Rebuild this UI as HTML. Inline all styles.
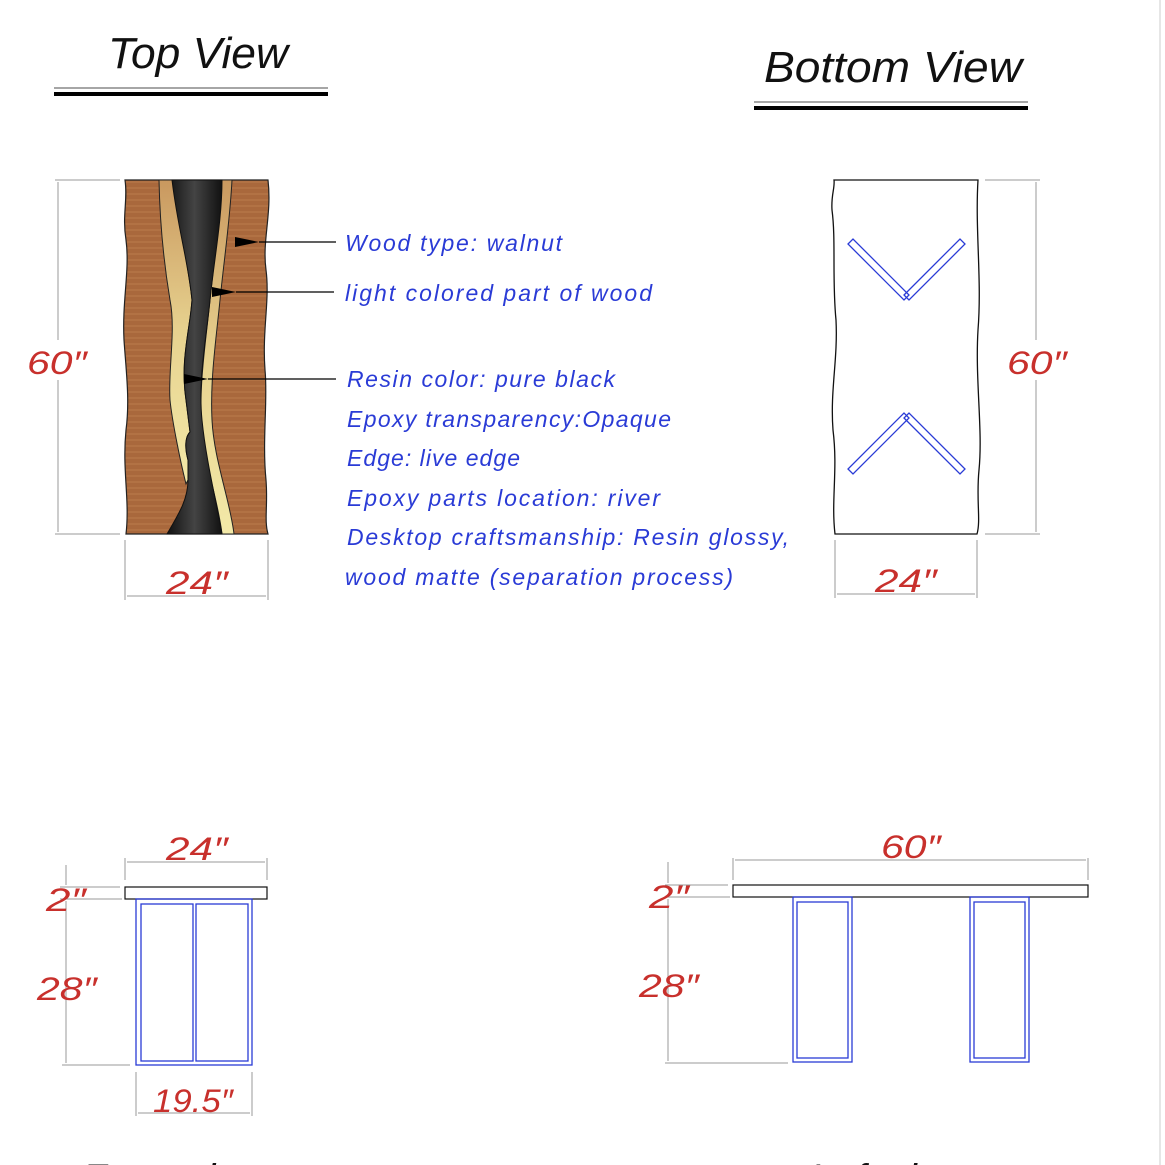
<!DOCTYPE html>
<html><head><meta charset="utf-8"><style>
html,body{margin:0;padding:0;background:#fff;}
svg{display:block;}
.t{font-family:"Liberation Sans",sans-serif;font-style:italic;font-weight:normal;}
.lbl{fill:#2a3bd6;font-size:23px;}
.dim{fill:#c8302c;font-size:32px;}
.ttl{fill:#111;font-size:44px;}
</style></head><body>
<svg width="1165" height="1165" viewBox="0 0 1165 1165" xmlns="http://www.w3.org/2000/svg">
<defs>
<pattern id="grain" width="40" height="6" patternUnits="userSpaceOnUse">
<rect width="40" height="6" fill="#a9683c"/>
<line x1="0" y1="2" x2="40" y2="2" stroke="#bb7b4c" stroke-width="1"/>
</pattern>
<linearGradient id="resin" x1="0" x2="1"><stop offset="0" stop-color="#111"/><stop offset="0.5" stop-color="#444"/><stop offset="1" stop-color="#111"/></linearGradient>
<linearGradient id="light" x1="0" y1="0" x2="0" y2="1"><stop offset="0" stop-color="#c9985f"/><stop offset="0.5" stop-color="#e7d28f"/><stop offset="1" stop-color="#f3e9a8"/></linearGradient>
<marker id="ar" markerUnits="userSpaceOnUse" markerWidth="24" markerHeight="10" refX="0" refY="5" orient="auto"><path d="M0,5 L24,0 L24,10 Z" fill="#000"/></marker>
</defs>
<line x1="1160" y1="0" x2="1160" y2="1165" stroke="#ccc" stroke-width="1"/>

<text x="108" y="68" class="t ttl" textLength="180" lengthAdjust="spacingAndGlyphs">Top View</text>
<line x1="54" y1="88" x2="328" y2="88" stroke="#888" stroke-width="1.5"/>
<line x1="54" y1="94" x2="328" y2="94" stroke="#000" stroke-width="4"/>
<text x="764" y="82" class="t ttl" textLength="258" lengthAdjust="spacingAndGlyphs">Bottom View</text>
<line x1="754" y1="102" x2="1028" y2="102" stroke="#888" stroke-width="1.5"/>
<line x1="754" y1="108" x2="1028" y2="108" stroke="#000" stroke-width="4"/>

<path d="M125,180 L268,180 C272,215 262,240 266,270 C270,300 262,330 265,370 C268,400 262,440 266,480 C268,505 264,520 268,534 L126,534 C130,500 122,470 126,430 C130,400 126,370 124,340 C122,300 130,270 126,240 C122,215 128,200 125,180 Z" fill="url(#grain)" stroke="#222" stroke-width="1.2"/>
<path d="M159,180 L178,180 C178,230 188,260 192,300 C190,330 180,360 186,400 L190,432 C186,436 184,445 188,460 L188,480 L186,484 C180,460 172,420 170,400 C168,370 176,330 170,300 C165,270 160,230 159,180 Z" fill="url(#light)" stroke="#222" stroke-width="1"/>
<path d="M219,180 L232,180 C230,220 224,260 220,300 C216,340 210,380 212,420 C214,460 230,500 234,534 L222,534 C218,500 206,470 202,430 C198,390 206,340 210,300 C214,260 220,220 219,180 Z" fill="url(#light)" stroke="#222" stroke-width="1"/>
<path d="M172,180 L222,180 C222,220 214,260 210,300 C206,340 198,380 202,420 C206,460 216,500 222,534 L167,534 C178,515 188,500 188,480 L188,460 C184,445 186,436 190,432 L186,400 C180,360 190,330 192,300 C188,260 178,230 172,180 Z" fill="url(#resin)" stroke="#111" stroke-width="1"/>

<line x1="336" y1="242" x2="259" y2="242" stroke="#000" stroke-width="1.2" marker-end="url(#ar)"/>
<line x1="334" y1="292" x2="236" y2="292" stroke="#000" stroke-width="1.2" marker-end="url(#ar)"/>
<line x1="336" y1="379" x2="208" y2="379" stroke="#000" stroke-width="1.2" marker-end="url(#ar)"/>

<text x="345" y="251" class="t lbl" textLength="217" lengthAdjust="spacing">Wood type: walnut</text>
<text x="345" y="301" class="t lbl" textLength="307" lengthAdjust="spacing">light colored part of wood</text>
<text x="347" y="387" class="t lbl" textLength="268" lengthAdjust="spacing">Resin color: pure black</text>
<text x="347" y="427" class="t lbl" textLength="324" lengthAdjust="spacing">Epoxy transparency:Opaque</text>
<text x="347" y="466" class="t lbl" textLength="173" lengthAdjust="spacing">Edge: live edge</text>
<text x="347" y="506" class="t lbl" textLength="313" lengthAdjust="spacing">Epoxy parts location: river</text>
<text x="347" y="545" class="t lbl" textLength="442" lengthAdjust="spacing">Desktop craftsmanship: Resin glossy,</text>
<text x="345" y="585" class="t lbl" textLength="388" lengthAdjust="spacing">wood matte (separation process)</text>

<g stroke="#999" stroke-width="1" fill="none">
<line x1="55" y1="180" x2="120" y2="180"/><line x1="55" y1="534" x2="120" y2="534"/>
<line x1="58" y1="182" x2="58" y2="532"/>
<line x1="125" y1="540" x2="125" y2="600"/><line x1="268" y1="540" x2="268" y2="600"/>
<line x1="127" y1="596" x2="266" y2="596"/>
<line x1="985" y1="180" x2="1040" y2="180"/><line x1="985" y1="534" x2="1040" y2="534"/>
<line x1="1036" y1="182" x2="1036" y2="532"/>
<line x1="835" y1="540" x2="835" y2="598"/><line x1="977" y1="540" x2="977" y2="598"/>
<line x1="837" y1="594" x2="975" y2="594"/>
</g>
<rect x="25" y="340" width="68" height="40" fill="#fff"/>
<text x="27" y="374" class="t dim" textLength="60" lengthAdjust="spacingAndGlyphs">60″</text>
<text x="166" y="594" class="t dim" textLength="62" lengthAdjust="spacingAndGlyphs">24″</text>
<rect x="1005" y="340" width="68" height="40" fill="#fff"/>
<text x="1007" y="374" class="t dim" textLength="60" lengthAdjust="spacingAndGlyphs">60″</text>
<text x="875" y="592" class="t dim" textLength="62" lengthAdjust="spacingAndGlyphs">24″</text>

<path d="M834,180 L978,180 C975,230 982,280 978,330 C975,380 983,430 979,470 C976,500 981,520 977,534 L835,534 C831,500 838,470 833,430 C830,390 838,360 836,320 C832,280 836,240 832,210 C831,195 835,188 834,180 Z" fill="#fff" stroke="#111" stroke-width="1.3"/>
<g stroke="#2a3bd6" stroke-width="1.3" fill="none">
<polygon points="848,244 853,239 909,295 904,300"/>
<polygon points="904,295 960,239 965,244 909,300"/>
<polygon points="848,469 853,474 909,418 904,413"/>
<polygon points="904,418 960,474 965,469 909,413"/>
</g>

<rect x="125" y="887" width="142" height="12" fill="#fff" stroke="#111" stroke-width="1.2"/>
<g stroke="#2a3bd6" stroke-width="1.3" fill="none">
<rect x="136" y="899" width="116" height="166"/>
<rect x="141" y="904" width="52" height="157"/>
<rect x="196" y="904" width="52" height="157"/>
</g>
<g stroke="#999" stroke-width="1" fill="none">
<line x1="125" y1="858" x2="125" y2="880"/><line x1="267" y1="858" x2="267" y2="880"/>
<line x1="127" y1="862" x2="265" y2="862"/>
<line x1="60" y1="887" x2="120" y2="887"/><line x1="60" y1="899" x2="122" y2="899"/>
<line x1="66" y1="865" x2="66" y2="885"/><line x1="66" y1="901" x2="66" y2="1063"/>
<line x1="62" y1="1065" x2="130" y2="1065"/>
<line x1="136" y1="1072" x2="136" y2="1116"/><line x1="252" y1="1072" x2="252" y2="1116"/>
<line x1="138" y1="1113" x2="250" y2="1113"/>
</g>
<text x="166" y="860" class="t dim" textLength="62" lengthAdjust="spacingAndGlyphs">24″</text>
<text x="46" y="911" class="t dim" textLength="40" lengthAdjust="spacingAndGlyphs">2″</text>
<text x="37" y="1000" class="t dim" textLength="60" lengthAdjust="spacingAndGlyphs">28″</text>
<text x="153" y="1112" class="t dim" textLength="80" lengthAdjust="spacingAndGlyphs">19.5″</text>

<rect x="733" y="885" width="355" height="12" fill="#fff" stroke="#111" stroke-width="1.2"/>
<g stroke="#2a3bd6" stroke-width="1.3" fill="none">
<rect x="793" y="897" width="59" height="165"/>
<rect x="797" y="902" width="51" height="156"/>
<rect x="970" y="897" width="59" height="165"/>
<rect x="974" y="902" width="51" height="156"/>
</g>
<g stroke="#999" stroke-width="1" fill="none">
<line x1="733" y1="858" x2="733" y2="880"/><line x1="1088" y1="858" x2="1088" y2="880"/>
<line x1="735" y1="860" x2="1086" y2="860"/>
<line x1="665" y1="885" x2="728" y2="885"/><line x1="665" y1="897" x2="730" y2="897"/>
<line x1="668" y1="862" x2="668" y2="883"/><line x1="668" y1="899" x2="668" y2="1061"/>
<line x1="665" y1="1063" x2="788" y2="1063"/>
</g>
<text x="881" y="858" class="t dim" textLength="60" lengthAdjust="spacingAndGlyphs">60″</text>
<text x="649" y="908" class="t dim" textLength="40" lengthAdjust="spacingAndGlyphs">2″</text>
<text x="639" y="997" class="t dim" textLength="60" lengthAdjust="spacingAndGlyphs">28″</text>

<text x="82" y="1192" class="t ttl" style="font-size:40px">Front view</text>
<text x="810" y="1192" class="t ttl" style="font-size:40px">Left view</text>
</svg>
</body></html>
